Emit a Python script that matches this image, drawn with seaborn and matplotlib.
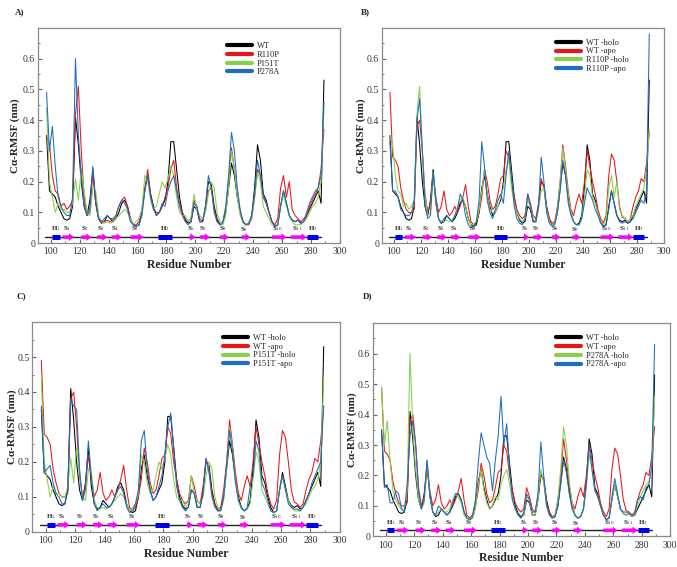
import numpy as np
import pandas as pd
import matplotlib
matplotlib.use("Agg")
import matplotlib.pyplot as plt
from matplotlib.ticker import MultipleLocator, FuncFormatter
import seaborn as sns

# ---- Data (Calpha RMSF in nm, every 2nd residue) ----
residues = np.arange(97, 290, 2)

wt_holo = [
    0.35, 0.17, 0.16, 0.15, 0.12, 0.10, 0.08, 0.075, 0.08, 0.12,
    0.41, 0.32, 0.20, 0.12, 0.09, 0.14, 0.24, 0.13, 0.08, 0.065,
    0.07, 0.09, 0.08, 0.07, 0.08, 0.10, 0.13, 0.14, 0.12, 0.08,
    0.06, 0.055, 0.06, 0.10, 0.18, 0.22, 0.16, 0.12, 0.09, 0.10,
    0.12, 0.14, 0.20, 0.33, 0.33, 0.24, 0.15, 0.10, 0.075, 0.065,
    0.07, 0.12, 0.11, 0.07, 0.07, 0.12, 0.20, 0.19, 0.12, 0.08,
    0.06, 0.065, 0.10, 0.18, 0.26, 0.22, 0.15, 0.10, 0.07, 0.06,
    0.065, 0.09, 0.18, 0.32, 0.27, 0.16, 0.14, 0.10, 0.07, 0.055,
    0.06, 0.12, 0.17, 0.13, 0.09, 0.075, 0.07, 0.075, 0.065, 0.07,
    0.09, 0.11, 0.13, 0.15, 0.17, 0.13, 0.53,
]
wt_apo = [
    0.49, 0.28, 0.27, 0.25, 0.18, 0.14, 0.11, 0.10, 0.10, 0.11,
    0.38, 0.40, 0.30, 0.16, 0.10, 0.13, 0.22, 0.15, 0.10, 0.12,
    0.17, 0.11, 0.09, 0.10, 0.12, 0.10, 0.12, 0.15, 0.19, 0.12,
    0.07, 0.06, 0.07, 0.10, 0.15, 0.24, 0.20, 0.14, 0.11, 0.12,
    0.16, 0.21, 0.22, 0.30, 0.28, 0.20, 0.15, 0.11, 0.09, 0.08,
    0.09, 0.16, 0.13, 0.09, 0.08, 0.13, 0.21, 0.18, 0.11, 0.08,
    0.065, 0.07, 0.12, 0.20, 0.32, 0.25, 0.17, 0.11, 0.09, 0.13,
    0.16, 0.13, 0.20, 0.30, 0.25, 0.20, 0.16, 0.11, 0.08, 0.065,
    0.09, 0.22, 0.29, 0.27, 0.20, 0.12, 0.085, 0.08, 0.07, 0.08,
    0.12, 0.15, 0.17, 0.21, 0.20, 0.26, 0.36,
]
r110p_holo = [
    0.35, 0.32, 0.22, 0.17, 0.16, 0.12, 0.13, 0.11, 0.12, 0.14,
    0.42, 0.51, 0.30, 0.15, 0.09, 0.10, 0.23, 0.13, 0.08, 0.07,
    0.07, 0.075, 0.07, 0.075, 0.09, 0.12, 0.14, 0.15, 0.12, 0.08,
    0.06, 0.06, 0.07, 0.11, 0.17, 0.24, 0.16, 0.11, 0.10, 0.10,
    0.12, 0.15, 0.18, 0.24, 0.27, 0.18, 0.13, 0.10, 0.08, 0.07,
    0.08, 0.14, 0.12, 0.08, 0.07, 0.11, 0.17, 0.18, 0.11, 0.07,
    0.06, 0.065, 0.11, 0.20, 0.31, 0.24, 0.16, 0.10, 0.07, 0.06,
    0.06, 0.08, 0.15, 0.24, 0.22, 0.15, 0.13, 0.10, 0.07, 0.06,
    0.08, 0.18, 0.22, 0.15, 0.20, 0.11, 0.09, 0.08, 0.07, 0.08,
    0.09, 0.12, 0.14, 0.16, 0.18, 0.24, 0.37,
]
r110p_apo = [
    0.33, 0.17, 0.17, 0.15, 0.11, 0.10, 0.09, 0.09, 0.10, 0.14,
    0.40, 0.47, 0.30, 0.12, 0.08, 0.09, 0.23, 0.14, 0.08, 0.065,
    0.08, 0.09, 0.08, 0.07, 0.09, 0.11, 0.16, 0.14, 0.09, 0.06,
    0.05, 0.055, 0.07, 0.14, 0.33, 0.25, 0.14, 0.10, 0.08, 0.11,
    0.14, 0.16, 0.13, 0.22, 0.30, 0.22, 0.12, 0.08, 0.065, 0.06,
    0.08, 0.16, 0.12, 0.07, 0.07, 0.12, 0.28, 0.20, 0.10, 0.065,
    0.055, 0.06, 0.10, 0.17, 0.27, 0.22, 0.13, 0.09, 0.07, 0.06,
    0.06, 0.08, 0.13, 0.18, 0.16, 0.14, 0.11, 0.09, 0.065, 0.055,
    0.06, 0.11, 0.17, 0.13, 0.09, 0.07, 0.065, 0.07, 0.065, 0.07,
    0.08, 0.10, 0.12, 0.14, 0.13, 0.17, 0.68,
]
p151t_holo = [
    0.44, 0.20, 0.15, 0.10, 0.13, 0.11, 0.11, 0.10, 0.10, 0.13,
    0.21, 0.14, 0.24, 0.17, 0.10, 0.09, 0.18, 0.17, 0.09, 0.07,
    0.065, 0.07, 0.065, 0.07, 0.08, 0.09, 0.10, 0.11, 0.10, 0.08,
    0.06, 0.07, 0.08, 0.11, 0.22, 0.20, 0.14, 0.11, 0.12, 0.16,
    0.20, 0.18, 0.21, 0.25, 0.22, 0.15, 0.10, 0.09, 0.09, 0.07,
    0.08, 0.16, 0.11, 0.09, 0.08, 0.10, 0.16, 0.20, 0.18, 0.10,
    0.07, 0.06, 0.09, 0.18, 0.30, 0.24, 0.15, 0.09, 0.065, 0.06,
    0.065, 0.08, 0.15, 0.23, 0.20, 0.12, 0.10, 0.08, 0.06, 0.055,
    0.06, 0.12, 0.16, 0.12, 0.09, 0.07, 0.06, 0.06, 0.06, 0.07,
    0.08, 0.10, 0.12, 0.13, 0.15, 0.20, 0.44,
]
p151t_apo = [
    0.36, 0.17, 0.18, 0.19, 0.14, 0.11, 0.10, 0.08, 0.08, 0.12,
    0.38, 0.36, 0.35, 0.18, 0.09, 0.12, 0.26, 0.16, 0.08, 0.06,
    0.07, 0.08, 0.07, 0.07, 0.08, 0.10, 0.12, 0.13, 0.11, 0.07,
    0.055, 0.06, 0.08, 0.12, 0.26, 0.29, 0.18, 0.12, 0.09, 0.10,
    0.13, 0.16, 0.22, 0.30, 0.34, 0.24, 0.13, 0.09, 0.07, 0.06,
    0.07, 0.12, 0.11, 0.07, 0.07, 0.11, 0.21, 0.17, 0.10, 0.07,
    0.06, 0.06, 0.10, 0.19, 0.29, 0.23, 0.14, 0.09, 0.07, 0.06,
    0.07, 0.13, 0.16, 0.26, 0.23, 0.14, 0.12, 0.09, 0.06, 0.055,
    0.06, 0.12, 0.16, 0.12, 0.08, 0.07, 0.065, 0.065, 0.06, 0.07,
    0.09, 0.11, 0.14, 0.16, 0.18, 0.20, 0.36,
]
p278a_holo = [
    0.49, 0.30, 0.38, 0.25, 0.15, 0.12, 0.10, 0.09, 0.09, 0.15,
    0.60, 0.35, 0.22, 0.12, 0.09, 0.11, 0.25, 0.14, 0.08, 0.07,
    0.08, 0.09, 0.08, 0.08, 0.09, 0.12, 0.14, 0.13, 0.11, 0.07,
    0.06, 0.055, 0.06, 0.09, 0.17, 0.22, 0.15, 0.11, 0.09, 0.10,
    0.13, 0.12, 0.17, 0.20, 0.22, 0.17, 0.12, 0.09, 0.07, 0.06,
    0.07, 0.13, 0.12, 0.07, 0.07, 0.12, 0.22, 0.18, 0.10, 0.07,
    0.06, 0.07, 0.12, 0.22, 0.36, 0.30, 0.18, 0.11, 0.07, 0.06,
    0.065, 0.09, 0.16, 0.27, 0.22, 0.15, 0.13, 0.10, 0.07, 0.055,
    0.06, 0.12, 0.17, 0.13, 0.09, 0.075, 0.07, 0.075, 0.065, 0.07,
    0.10, 0.13, 0.15, 0.17, 0.18, 0.22, 0.46,
]
p278a_apo = [
    0.35, 0.16, 0.17, 0.11, 0.11, 0.15, 0.14, 0.09, 0.08, 0.17,
    0.33, 0.38, 0.30, 0.15, 0.09, 0.12, 0.25, 0.14, 0.08, 0.07,
    0.10, 0.09, 0.08, 0.07, 0.08, 0.11, 0.14, 0.14, 0.12, 0.08,
    0.06, 0.055, 0.07, 0.12, 0.24, 0.34, 0.30, 0.26, 0.24, 0.15,
    0.25, 0.33, 0.46, 0.30, 0.37, 0.22, 0.12, 0.09, 0.07, 0.06,
    0.08, 0.14, 0.12, 0.08, 0.08, 0.14, 0.31, 0.20, 0.10, 0.07,
    0.06, 0.065, 0.10, 0.17, 0.25, 0.21, 0.14, 0.09, 0.07, 0.06,
    0.065, 0.09, 0.17, 0.30, 0.22, 0.15, 0.13, 0.10, 0.07, 0.055,
    0.06, 0.13, 0.19, 0.14, 0.09, 0.08, 0.08, 0.075, 0.07, 0.07,
    0.12, 0.13, 0.12, 0.16, 0.17, 0.23, 0.63,
]

# secondary structure (residue ranges)
helix_ranges = [(101, 106), (174, 184), (277, 285)]
helix_labels = ["H$_1$", "H$_2$", "H$_3$"]
strand_ranges = [(108, 116), (121, 128), (132, 139), (142, 149), (155, 164),
                 (196, 200), (203, 210), (217, 223), (232, 238), (253, 263), (266, 277)]
strand_labels = ["S$_1$", "S$_2$", "S$_3$", "S$_4$", "S$_5$", "S$_6$",
                 "S$_7$", "S$_8$", "S$_9$", "S$_{10}$", "S$_{11}$"]
topo_start, topo_end = 96, 287

COLORS = ["#000000", "#e8161b", "#86d14a", "#1f6dc0"]

panels = [
    ("A)", ["WT", "R110P", "P151T", "P278A"],
     [wt_holo, r110p_holo, p151t_holo, p278a_holo], 0.7),
    ("B)", ["WT -holo", "WT -apo", "R110P -holo", "R110P -apo"],
     [wt_holo, wt_apo, r110p_holo, r110p_apo], 0.7),
    ("C)", ["WT -holo", "WT -apo", "P151T -holo", "P151T -apo"],
     [wt_holo, wt_apo, p151t_holo, p151t_apo], 0.6),
    ("D)", ["WT -holo", "WT -apo", "P278A -holo", "P278A -apo"],
     [wt_holo, wt_apo, p278a_holo, p278a_apo], 0.7),
]

# axes rectangles [left, bottom, width, height] and placement of the extras
axes_rects = [
    [0.056, 0.571, 0.446, 0.380],
    [0.564, 0.571, 0.417, 0.380],
    [0.048, 0.062, 0.454, 0.370],
    [0.551, 0.054, 0.439, 0.376],
]
letter_pos = [(0.022, 0.978), (0.533, 0.978), (0.024, 0.478), (0.536, 0.478)]
legend_anchor = [(0.615, 0.950), (0.605, 0.965), (0.610, 0.960), (0.603, 0.965)]
ylabel_x = [-0.060, -0.057, -0.052, -0.054]

sns.set_style("ticks")
plt.rcParams["font.family"] = ["Liberation Serif", "DejaVu Serif"]
plt.rcParams["mathtext.fontset"] = "stix"

fig = plt.figure(figsize=(6.77, 5.67), dpi=100)


def draw_topology(ax, y=0.02):
    ax.plot([topo_start, topo_end], [y, y], color="#222222", lw=1.0, zorder=3)
    for (s, e), lab in zip(helix_ranges, helix_labels):
        ax.plot([s, e], [y, y], color="#0000ee", lw=3.6, solid_capstyle="butt", zorder=4)
        ax.text((s + e) / 2, y + 0.012, lab, ha="center", va="bottom",
                fontsize=5, fontweight="bold", zorder=5)
    for (s, e), lab in zip(strand_ranges, strand_labels):
        ax.annotate("", xy=(e, y), xytext=(s, y),
                    arrowprops=dict(arrowstyle="simple,head_length=0.6,head_width=0.9,tail_width=0.42",
                                    fc="#ff00ff", ec="none", shrinkA=0, shrinkB=0,
                                    mutation_scale=6), zorder=4)
        ax.text((s + e) / 2 - 1, y + 0.012, lab, ha="center", va="bottom",
                fontsize=5, fontweight="bold", zorder=5)


for i, (letter, names, series, ymax) in enumerate(panels):
    ax = fig.add_axes(axes_rects[i])
    df = pd.DataFrame({
        "Residue": np.tile(residues, len(series)),
        "RMSF": np.concatenate([np.asarray(s, dtype=float) for s in series]),
        "Series": np.repeat(names, len(residues)),
    })
    sns.lineplot(data=df, x="Residue", y="RMSF", hue="Series", hue_order=names,
                 palette=COLORS, linewidth=0.75, errorbar=None, legend=False, ax=ax)
    data_lines = list(ax.lines[:len(names)])
    draw_topology(ax)

    ax.set_xlim(91, 300)
    ax.set_ylim(0, ymax)
    ax.xaxis.set_major_locator(MultipleLocator(20))
    ax.xaxis.set_minor_locator(MultipleLocator(10))
    ax.yaxis.set_minor_locator(MultipleLocator(0.05))
    ax.set_yticks(np.arange(0, ymax - 0.05, 0.1))
    ax.yaxis.set_major_formatter(FuncFormatter(lambda v, p: "0" if abs(v) < 1e-9 else f"{v:.1f}"))
    ax.tick_params(axis="both", which="both", direction="in", labelsize=7,
                   colors="#666666", labelcolor="#333333")
    ax.tick_params(which="major", length=3)
    ax.tick_params(which="minor", length=1.5)
    ax.tick_params(axis="y", pad=2)
    ax.tick_params(axis="x", pad=3)
    for sp in ax.spines.values():
        sp.set_visible(True)
        sp.set_color("#8a8a8a")
        sp.set_linewidth(0.9)

    ax.set_xlabel("Residue Number", fontsize=8.5, fontweight="bold", labelpad=2)
    ax.set_ylabel("Cα-RMSF (nm)", fontsize=8, fontweight="bold")
    ax.yaxis.set_label_coords(ylabel_x[i], 0.5)

    leg = ax.legend(data_lines, names, loc="upper left", bbox_to_anchor=legend_anchor[i],
                    frameon=False, fontsize=6, handlelength=3.0, handletextpad=0.6,
                    labelspacing=0.1, borderaxespad=0)
    for h in leg.get_lines():
        h.set_linewidth(3)

    fig.text(letter_pos[i][0], letter_pos[i][1], letter, fontsize=6.5, fontweight="bold",
             ha="left", va="center")

fig.savefig("out.png", dpi=100)
